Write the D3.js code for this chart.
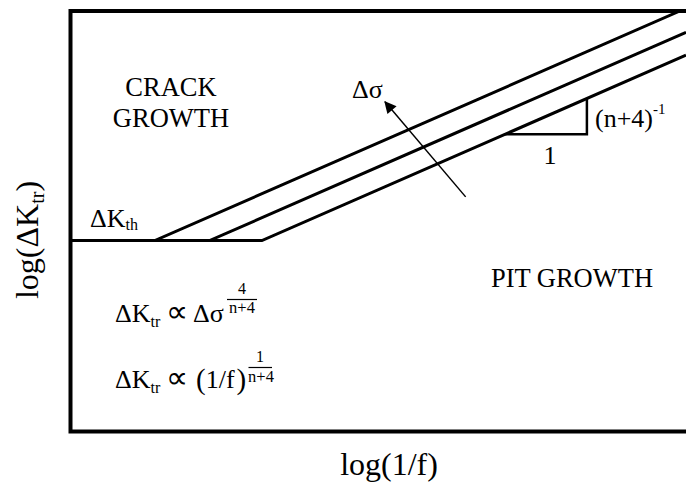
<!DOCTYPE html>
<html>
<head>
<meta charset="utf-8">
<script src="https://cdn.jsdelivr.net/npm/d3@7"></script>
<style>
  html, body { margin: 0; padding: 0; background: #fff; }
  svg { display: block; }
  text { font-family: "Liberation Serif", "Times New Roman", serif; fill: #000; }
</style>
</head>
<body>
<svg id="chart" width="686" height="485"></svg>
<script>
// ---- Data (schematic units: both axes 0..100) ----
const stressLevels = ["Δσ1", "Δσ2", "Δσ3"];      // increasing stress range -> lines move up/left
const kinkX = [13.7, 22.6, 31.1];                 // log(1/f) where each line leaves the threshold
const thresholdK = 45.4;                          // log(ΔK_th)
const slope = 0.64;                               // (n+4)^-1 in axis units
const slopeTriangleX = [70.6, 83.9];              // run of the slope triangle along the lowest line
const arrowFrom = [64.2, 55.8];                   // Δσ arrow tail
const arrowTo = [51.1, 78.4];                     // Δσ arrow head
const xDomain = [0, 100];
const yDomain = [0, 100];

// ---- Layout ----
const svg = d3.select("#chart");
const plot = { left: 70.5, top: 11, right: 686, bottom: 431.5 };

const x = d3.scaleLinear().domain(xDomain).range([plot.left, plot.right]);
const y = d3.scaleLinear().domain(yDomain).range([plot.bottom, plot.top]);

const defs = svg.append("defs");
defs.append("clipPath").attr("id", "plotClip")
  .append("rect")
  .attr("x", plot.left).attr("y", plot.top)
  .attr("width", plot.right - plot.left).attr("height", plot.bottom - plot.top);

defs.append("marker")
  .attr("id", "arrowHead")
  .attr("viewBox", "0 0 10 10")
  .attr("refX", 9).attr("refY", 5)
  .attr("markerWidth", 13).attr("markerHeight", 12)
  .attr("markerUnits", "userSpaceOnUse")
  .attr("orient", "auto")
  .append("path").attr("d", "M0,0 L10,5 L0,10 Z").attr("fill", "#000");

const line = d3.line().x(d => x(d[0])).y(d => y(d[1]));

// Transition lines
const linesG = svg.append("g").attr("clip-path", "url(#plotClip)");
kinkX.forEach((k, i) => {
  const xEnd = Math.min(xDomain[1], k + (yDomain[1] - thresholdK) / slope);
  const pts = [[xDomain[0], thresholdK], [k, thresholdK], [xEnd, thresholdK + slope * (xEnd - k)]];
  linesG.append("path")
    .attr("d", line(pts))
    .attr("fill", "none")
    .attr("stroke", "#000")
    .attr("stroke-width", 3)
    .attr("stroke-linejoin", "miter");
});

// Slope triangle on the lowest line
const k3 = kinkX[kinkX.length - 1];
const yOn = xv => thresholdK + slope * (xv - k3);
const tri = [
  [slopeTriangleX[0], yOn(slopeTriangleX[0])],
  [slopeTriangleX[1], yOn(slopeTriangleX[0])],
  [slopeTriangleX[1], yOn(slopeTriangleX[1])]
];
svg.append("path")
  .attr("d", line(tri))
  .attr("fill", "none").attr("stroke", "#000").attr("stroke-width", 2.5);

// Δσ arrow
svg.append("line")
  .attr("x1", x(arrowFrom[0])).attr("y1", y(arrowFrom[1]))
  .attr("x2", x(arrowTo[0])).attr("y2", y(arrowTo[1]))
  .attr("stroke", "#000").attr("stroke-width", 1.5)
  .attr("marker-end", "url(#arrowHead)");

// Frame (left, top, bottom — no right border)
const frame = d3.path();
frame.moveTo(plot.right, plot.top);
frame.lineTo(plot.left, plot.top);
frame.lineTo(plot.left, plot.bottom);
frame.lineTo(plot.right, plot.bottom);
svg.append("path").attr("d", frame.toString())
  .attr("fill", "none").attr("stroke", "#000").attr("stroke-width", 4)
  .attr("stroke-linejoin", "miter");

// ---- Text ----
const T = (tx, ty, str, size, anchor) => svg.append("text")
  .attr("x", tx).attr("y", ty).attr("font-size", size)
  .attr("text-anchor", anchor || "start").text(str);

T(171, 96, "CRACK", 26.5, "middle");
T(171, 127, "GROWTH", 26.5, "middle");
T(572, 287, "PIT GROWTH", 26.5, "middle");

// ΔK_th
const kth = svg.append("text").attr("x", 90).attr("y", 227).attr("font-size", 26);
kth.append("tspan").text("ΔK");
kth.append("tspan").attr("font-size", 16).attr("dy", 3).text("th");

// Δσ label
T(352, 98, "Δσ", 26);

// slope labels
const sl = svg.append("text").attr("x", 595).attr("y", 127).attr("font-size", 26);
sl.append("tspan").text("(n+4)");
sl.append("tspan").attr("font-size", 15).attr("dy", -13).text("-1");
T(550, 164, "1", 26, "middle");

// Formula 1: ΔK_tr ∝ Δσ^(4/(n+4))
const f1 = svg.append("text").attr("x", 115).attr("y", 322).attr("font-size", 26);
f1.append("tspan").text("ΔK");
f1.append("tspan").attr("font-size", 16).attr("dy", 5).text("tr");
f1.append("tspan").attr("dy", -5).attr("x", 166).attr("font-size", 31).text("∝");
f1.append("tspan").attr("x", 193).attr("font-size", 26).text("Δσ");
T(242, 294, "4", 16, "middle");
svg.append("line").attr("x1", 227).attr("x2", 257).attr("y1", 299.5).attr("y2", 299.5)
  .attr("stroke", "#000").attr("stroke-width", 1.2);
T(242, 313, "n+4", 16.5, "middle");

// Formula 2: ΔK_tr ∝ (1/f)^(1/(n+4))
const f2 = svg.append("text").attr("x", 115).attr("y", 388).attr("font-size", 26);
f2.append("tspan").text("ΔK");
f2.append("tspan").attr("font-size", 16).attr("dy", 5).text("tr");
f2.append("tspan").attr("dy", -5).attr("x", 166).attr("font-size", 31).text("∝");
f2.append("tspan").attr("x", 196).attr("font-size", 29).attr("dy", 1).text("(");
f2.append("tspan").attr("font-size", 26).attr("dy", -1).text("1/f");
f2.append("tspan").attr("font-size", 29).attr("dy", 1).attr("dx", 2).text(")");
T(260, 362, "1", 16, "middle");
svg.append("line").attr("x1", 248.5).attr("x2", 272).attr("y1", 367.5).attr("y2", 367.5)
  .attr("stroke", "#000").attr("stroke-width", 1.2);
T(261, 382, "n+4", 16.5, "middle");

// Axis titles
svg.append("text").attr("x", 389).attr("y", 475).attr("font-size", 32)
  .attr("text-anchor", "middle").text("log(1/f)");

const yt = svg.append("text")
  .attr("transform", "translate(38,240) rotate(-90)")
  .attr("font-size", 32).attr("text-anchor", "middle");
yt.append("tspan").text("log(ΔK");
yt.append("tspan").attr("font-size", 20).attr("dy", 6).text("tr");
yt.append("tspan").attr("font-size", 32).attr("dy", -6).text(")");
</script>
</body>
</html>
